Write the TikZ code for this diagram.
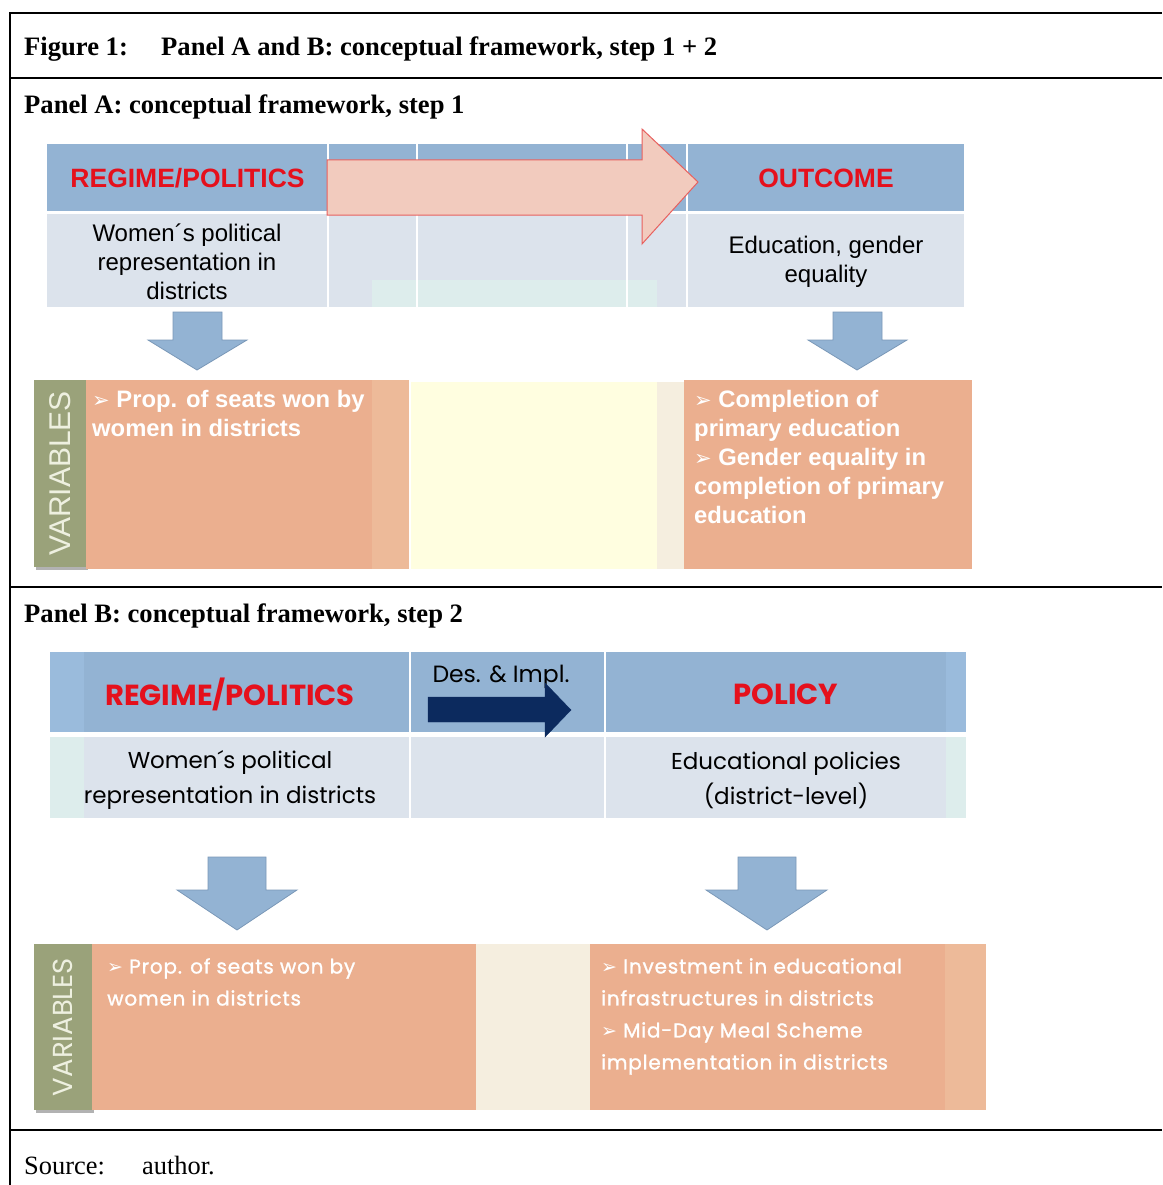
\documentclass[tikz,border=0pt]{standalone}
\usepackage{fontspec}
\setmainfont{Liberation Serif}
\newfontfamily\arialf{Liberation Sans}
\newfontfamily\gothicf{Poppins}
\newfontfamily\gothicvf{Poppins}[LetterSpace=4,FakeBold=1.2]
\newfontfamily\dejavuf{DejaVu Sans}
\usetikzlibrary{fit}
\definecolor{hdrblue}{HTML}{93B3D3}
\definecolor{hdrlight}{HTML}{9ABBDC}
\definecolor{rowgray}{HTML}{DCE3EC}
\definecolor{mint}{HTML}{DDEDEC}
\definecolor{pinkfill}{HTML}{F2CBBE}
\definecolor{pinkline}{HTML}{E8605E}
\definecolor{redtxt}{HTML}{E5101C}
\definecolor{orangebox}{HTML}{EBAF8F}
\definecolor{orangelight}{HTML}{EDBA99}
\definecolor{yellowbox}{HTML}{FFFEE0}
\definecolor{beigebox}{HTML}{F5EEDF}
\definecolor{olive}{HTML}{9AA27A}
\definecolor{olivetxt}{HTML}{EEF0E0}
\definecolor{navy}{HTML}{0C2A5E}
\definecolor{arrowline}{HTML}{7A98B8}
\newcommand{\bulA}{{\dejavuf\fontsize{21}{21}\selectfont ➢}}
\newcommand{\bulB}{{\dejavuf\fontsize{19}{19}\selectfont ➢}}
\begin{document}
\begin{tikzpicture}[x=1pt,y=-1pt,
  cell/.style={inner sep=0pt, outer sep=0pt, draw=none},
  frameline/.style={line width=1.8pt, black},
  captxt/.style={inner sep=0pt, anchor=base west, font=\fontsize{26.6}{30}\selectfont\bfseries},
  srctxt/.style={inner sep=0pt, anchor=base west, font=\fontsize{26.4}{30}\selectfont},
  hdrA/.style={inner sep=0pt, text=redtxt, font=\arialf\bfseries\fontsize{26.5}{30}\selectfont},
  rowA/.style={inner sep=0pt, align=center, font=\arialf\fontsize{24}{29}\selectfont},
  varA/.style={inner sep=0pt, anchor=north west, align=left, text=white, font=\arialf\bfseries\fontsize{23.8}{29}\selectfont},
  hdrB/.style={inner sep=0pt, text=redtxt, font=\gothicf\bfseries\fontsize{29}{30}\selectfont},
  rowB/.style={inner sep=0pt, align=center, font=\gothicf\fontsize{23}{35}\selectfont},
  varB/.style={inner sep=0pt, anchor=north west, align=left, text=white, font=\gothicvf\fontsize{20}{32}\selectfont},
  vartitle/.style={inner sep=0pt, rotate=90, text=olivetxt},
  downarrow/.style={fill=hdrblue, draw=arrowline, line width=0.8pt, line join=miter},
]
\useasboundingbox (0,0) rectangle (1162,1185);
\fill[white] (0,0) rectangle (1162,1185);

% ---------- frame ----------
\coordinate (ftl) at (10,13);
\coordinate (ftr) at (1162,13);
\coordinate (fbl) at (10,1185);
\draw[frameline] (ftr) -- (ftl) -- (fbl);
\draw[frameline] (10,78) -- (1162,78);
\draw[frameline] (10,587) -- (1162,587);
\draw[frameline] (10,1130) -- (1162,1130);

\node[captxt] (fig) at (24,56) {Figure 1:};
\node[captxt] (figt) at (161,56) {Panel A and B: conceptual framework, step 1 + 2};
\node[captxt] (pa) at (24,114) {Panel A: conceptual framework, step 1};
\node[captxt] (pb) at (24,622) {Panel B: conceptual framework, step 2};
\node[srctxt] (src) at (24,1174) {Source:};
\node[srctxt] (srca) at (142,1174) {author.};

% ================= PANEL A =================
\node[cell, fill=hdrblue, fit={(47,144) (327,211)}] (A1) {};
\node[cell, fill=hdrblue, fit={(329,144) (416,211)}] (A2) {};
\node[cell, fill=hdrblue, fit={(418,144) (626,211)}] (A3) {};
\node[cell, fill=hdrblue, fit={(628,144) (686,211)}] (A4) {};
\node[cell, fill=hdrblue, fit={(688,144) (964,211)}] (A5) {};
\node[cell, fill=rowgray, fit={(47,214) (327,307)}] (B1) {};
\node[cell, fill=rowgray, fit={(329,214) (416,307)}] (B2) {};
\node[cell, fill=rowgray, fit={(418,214) (626,307)}] (B3) {};
\node[cell, fill=rowgray, fit={(628,214) (686,307)}] (B4) {};
\node[cell, fill=rowgray, fit={(688,214) (964,307)}] (B5) {};
\fill[mint] (372,280) rectangle (416,307);
\fill[mint] (418,280) rectangle (626,307);
\fill[mint] (628,280) rectangle (657,307);

% big pink arrow
\draw[fill=pinkfill, draw=pinkline, line width=1pt, line join=miter]
  (327,160) -- (642,160) -- (642,129) -- (698,182) -- (642,244) -- (642,215) -- (327,215) -- cycle;

\node[hdrA] (regA) at (187.5,178) {REGIME/POLITICS};
\node[hdrA] (outA) at (826,178) {OUTCOME};
\node[rowA] (womA) at (187,262) {Women´s political\\representation in\\districts};
\node[rowA] (eduA) at (826,262) {Education, gender\\equality};

% down arrows
\draw[downarrow] (173,312) -- (222,312) -- (222,340) -- (247,340) -- (197,370) -- (148,340) -- (173,340) -- cycle;
\draw[downarrow] (833,312) -- (882,312) -- (882,340) -- (907,340) -- (857,370) -- (808,340) -- (833,340) -- cycle;

% variables row
\fill[black!30] (36,383) rectangle (88,570);
\node[cell, fill=olive, fit={(34,380) (86,567)}] (VA) {};
\node[vartitle, font=\arialf\fontsize{30}{30}\selectfont] (VAt) at (VA.center) {VARIABLES};
\node[cell, fill=orangebox, fit={(86,380) (372,569)}] (OA1) {};
\fill[orangelight] (372,380) rectangle (409,569);
\node[cell, fill=yellowbox, fit={(411,382) (657,569)}] (YA) {};
\node[cell, fill=beigebox, fit={(657,382) (684,569)}] (BA) {};
\node[cell, fill=orangebox, fit={(684,380) (972,569)}] (OA2) {};

\node[varA] (vA1) at (92,390) {\bulA\ Prop. of seats won by\\women in districts};
\node[varA] (vA2) at (694,390) {\bulA\ Completion of\\primary education\\\bulA\ Gender equality in\\completion of primary\\education};

% ================= PANEL B =================
\node[cell, fill=hdrlight, fit={(50,652) (84,732)}] (C0) {};
\node[cell, fill=hdrblue, fit={(84,652) (409,732)}] (C1) {};
\node[cell, fill=hdrblue, fit={(411,652) (604,732)}] (C2) {};
\node[cell, fill=hdrblue, fit={(606,652) (946,732)}] (C3) {};
\node[cell, fill=hdrlight, fit={(946,652) (966,732)}] (C4) {};
\node[cell, fill=mint, fit={(50,737) (84,818)}] (D0) {};
\node[cell, fill=rowgray, fit={(84,737) (409,818)}] (D1) {};
\node[cell, fill=rowgray, fit={(411,737) (604,818)}] (D2) {};
\node[cell, fill=rowgray, fit={(606,737) (946,818)}] (D3) {};
\node[cell, fill=mint, fit={(946,737) (966,818)}] (D4) {};

\node[hdrB] (regB) at (230,694) {REGIME/POLITICS};
\node[hdrB] (polB) at (786,694) {POLICY};
\node[inner sep=0pt, font=\gothicf\fontsize{23.5}{25}\selectfont] (desB) at (501,677) {Des. \& Impl.};
\draw[fill=navy, draw=navy, line join=miter]
  (428,697) -- (545,697) -- (545,683) -- (571,710) -- (545,737) -- (545,722) -- (428,722) -- cycle;
\node[rowB] (womB) at (230,780) {Women´s political\\representation in districts};
\node[rowB] (eduB) at (786,780) {Educational policies\\(district-level)};

\draw[downarrow] (208,857) -- (266,857) -- (266,890) -- (297,890) -- (237,930) -- (177,890) -- (208,890) -- cycle;
\draw[downarrow] (738,857) -- (796,857) -- (796,890) -- (827,890) -- (767,930) -- (706,890) -- (738,890) -- cycle;

\fill[black!30] (36,947) rectangle (94,1113);
\node[cell, fill=olive, fit={(34,944) (92,1110)}] (VB) {};
\node[vartitle, font=\gothicf\fontsize{27.5}{27.5}\selectfont] (VBt) at (VB.center) {VARIABLES};
\node[cell, fill=orangebox, fit={(92,944) (476,1110)}] (OB1) {};
\node[cell, fill=beigebox, fit={(476,944) (590,1110)}] (BB) {};
\node[cell, fill=orangebox, fit={(590,944) (945,1110)}] (OB2) {};
\node[cell, fill=orangelight, fit={(945,944) (986,1110)}] (OB3) {};

\node[varB] (vB1) at (107,958) {\bulB\ Prop. of seats won by\\women in districts};
\node[varB] (vB2) at (601,958) {\bulB\ Investment in educational\\infrastructures in districts\\\bulB\ Mid-Day Meal Scheme\\implementation in districts};
\end{tikzpicture}
\end{document}
